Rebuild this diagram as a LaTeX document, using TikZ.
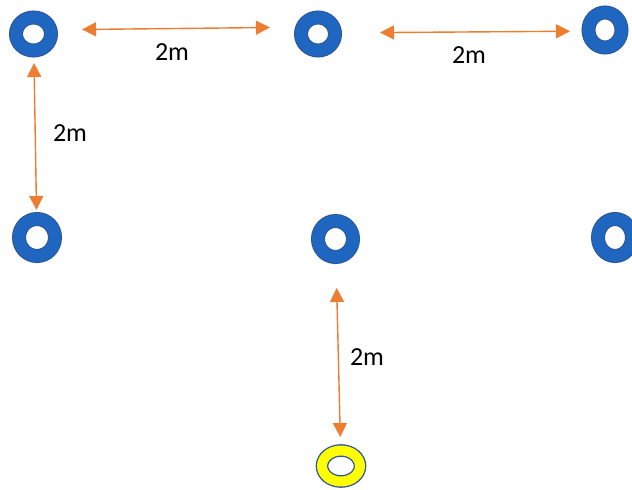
\documentclass[tikz,border=0pt]{standalone}
\usepackage{fontspec}
\setmainfont{Carlito}
\usetikzlibrary{arrows.meta,shapes.geometric}
\definecolor{ringblue}{RGB}{30,102,192}
\definecolor{ringedge}{RGB}{47,85,151}
\definecolor{arrorange}{RGB}{237,125,49}
\definecolor{ringyellow}{RGB}{255,255,0}
\tikzset{
  bluering/.style={ellipse, inner sep=0pt, draw=ringedge, line width=1pt, double=ringblue, double distance=12pt, fill=white},
  yellowring/.style={ellipse, inner sep=0pt, draw=ringedge, line width=1.3pt, double=ringyellow, double distance=10pt, fill=white},
  arr/.style={draw=arrorange, line width=1.4pt, {Triangle[length=14pt,width=14pt]}-{Triangle[length=14pt,width=14pt]}},
  lbl/.style={font=\fontsize{26}{30}\selectfont, text=black, inner sep=0pt}
}
\begin{document}
\begin{tikzpicture}[x=1pt,y=-1pt]
\useasboundingbox[fill=white] (0,0) rectangle (632,490);
\node[bluering, minimum width=35pt, minimum height=33pt] (r1) at (33.5,34) {};
\node[bluering, minimum width=34pt, minimum height=33pt] (r2) at (318,34) {};
\node[bluering, minimum width=33pt, minimum height=35pt] (r3) at (605,30) {};
\node[bluering, minimum width=36pt, minimum height=37pt] (r4) at (37,237.5) {};
\node[bluering, minimum width=35pt, minimum height=36pt] (r5) at (335.5,239) {};
\node[bluering, minimum width=34pt, minimum height=37pt] (r6) at (615,237.5) {};
\node[yellowring, minimum width=38pt, minimum height=31pt] (y1) at (341,466) {};
\draw[arr, shorten <=48.5pt, shorten >=48pt] ([yshift=4pt]r1.center) -- ([yshift=7pt]r2.center);
\draw[arr, shorten <=62pt, shorten >=35pt] ([yshift=1pt]r2.center) -- ([yshift=-1pt]r3.center);
\draw[arr, shorten <=29pt, shorten >=27.5pt] (r1.center) -- (r4.center);
\draw[arr, shorten <=49pt, shorten >=29pt] (r5.center) -- (y1.center);
\node[lbl] (l1) at (172,52) {2m};
\node[lbl] (l2) at (469,55) {2m};
\node[lbl] (l3) at (70,133) {2m};
\node[lbl] (l4) at (367,357) {2m};
\end{tikzpicture}
\end{document}
